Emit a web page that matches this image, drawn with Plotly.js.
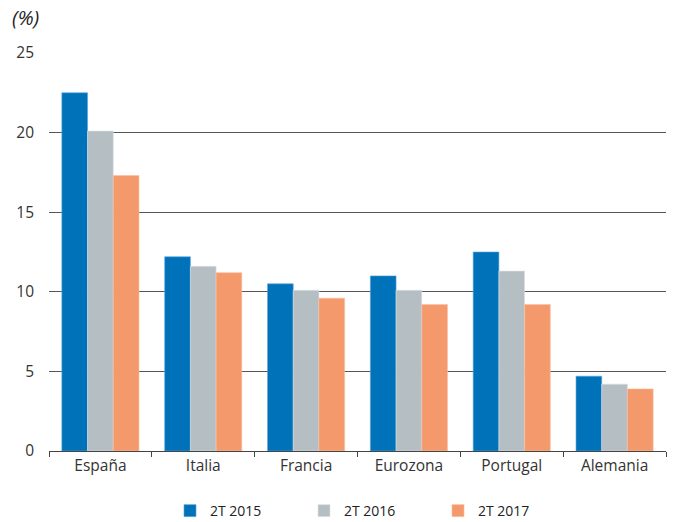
<!DOCTYPE html>
<html><head><meta charset="utf-8">
<script src="https://cdn.plot.ly/plotly-3.0.1.min.js"></script>
<style>body{margin:0;background:#fff}#chart{width:685px;height:522px}</style>
</head><body><div id="chart"></div>
<script>
const categories = ["España","Italia","Francia","Eurozona","Portugal","Alemania"];
const seriesNames = ["2T 2015","2T 2016","2T 2017"];
const values2015 = [22.5,12.2,10.5,11.0,12.5,4.7];
const values2016 = [20.1,11.6,10.1,10.1,11.3,4.2];
const values2017 = [17.3,11.2,9.6,9.2,9.2,3.9];
const colors = ["#0072BA","#B4BEC3","#F4996C"];
const lineColors = ["#5AA6DA","#DDE3E6","#F8BFA2"];
const yTicks = [0,5,10,15,20,25];

const allVals = [values2015, values2016, values2017];
const traces = allVals.map((v,i)=>({
  type:"bar", x:categories, y:v, name:seriesNames[i],
  marker:{color:colors[i], line:{color:lineColors[i], width:0.6}},
  hoverinfo:"y"
}));
const layout = {
  width:685, height:522,
  margin:{l:49, r:19, t:53, b:71, autoexpand:false},
  paper_bgcolor:"#fff", plot_bgcolor:"#fff",
  font:{family:"Open Sans, sans-serif", color:"#333", size:15},
  barmode:"group", bargap:0.25, bargroupgap:0,
  showlegend:true,
  legend:{orientation:"h", x:170/685, xanchor:"left", xref:"container",
    y:0.021, yanchor:"middle", yref:"container",
    font:{size:14, color:"#222"}, entrywidth:89, itemwidth:30, traceorder:"normal"},
  xaxis:{showgrid:false, showline:true, linecolor:"#444", linewidth:1.2,
    ticks:"outside", tickson:"boundaries", ticklen:5, tickcolor:"#444",
    tickfont:{size:15.5, color:"#333"}, fixedrange:true, automargin:false},
  yaxis:{range:[0,25], tickvals:yTicks, showgrid:true, gridcolor:"#555", gridwidth:1,
    zeroline:false, showline:false, ticks:"", ticklabelstandoff:14,
    tickfont:{size:15.5, color:"#333"}, fixedrange:true, automargin:false},
  annotations:[{text:"<i>(%)</i>", xref:"paper", yref:"paper", x:-0.064, y:1.09,
    xanchor:"left", yanchor:"middle", showarrow:false, font:{size:20, color:"#222"}}]
};
Plotly.newPlot("chart", traces, layout, {displayModeBar:false, staticPlot:true});
</script></body></html>
